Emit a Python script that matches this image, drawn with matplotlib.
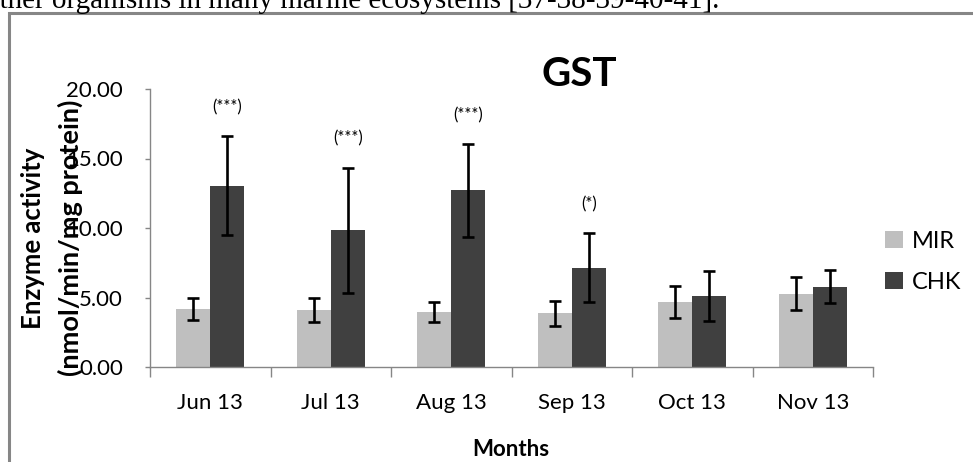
import matplotlib
matplotlib.use("Agg")
import matplotlib.pyplot as plt
import numpy as np
from matplotlib.patches import Patch, Rectangle

plt.rcParams['font.family'] = ['Lato', 'DejaVu Sans']

months = ["Jun 13", "Jul 13", "Aug 13", "Sep 13", "Oct 13", "Nov 13"]
mir_mean = [4.20, 4.10, 3.95, 3.85, 4.68, 5.27]
mir_err = [0.80, 0.84, 0.70, 0.87, 1.15, 1.17]
chk_mean = [13.05, 9.85, 12.70, 7.15, 5.13, 5.77]
chk_err = [3.55, 4.50, 3.33, 2.48, 1.80, 1.18]
signif = ["(***)", "(***)", "(***)", "(*)", "", ""]
series_names = ["MIR", "CHK"]
y_ticks = [0, 5, 10, 15, 20]

W, H = 973, 462
fig = plt.figure(figsize=(W / 100, H / 100), dpi=100)

# page text running above the chart box
fig.text(-15 / W, 1 - 8 / H,
         "other organisms in many marine ecosystems [37-38-39-40-41].",
         family="Liberation Serif", fontsize=21, ha="left", va="baseline")

# chart box border
fig.patches.append(Rectangle((9 / W, -0.2), 1.2, 1 - 13 / H + 0.2,
                             transform=fig.transFigure, fill=False,
                             edgecolor="#868686", linewidth=2.2))

ax = fig.add_axes([150 / W, (H - 367) / H, 723 / W, (367 - 89) / H])

x = np.arange(len(months))
bw = 0.282
err_kw = dict(ecolor="black", elinewidth=1.9, capsize=4.5, capthick=1.9)
ax.bar(x - bw / 2, mir_mean, bw, color="#BFBFBF", yerr=mir_err,
       error_kw=err_kw, label=series_names[0], zorder=2)
ax.bar(x + bw / 2, chk_mean, bw, color="#404040", yerr=chk_err,
       error_kw=err_kw, label=series_names[1], zorder=2)

for i, s in enumerate(signif):
    if s:
        ax.annotate(s, (x[i] + bw / 2, chk_mean[i] + chk_err[i]),
                    xytext=(0, 21), textcoords="offset points",
                    ha="center", va="center", fontsize=12)

ax.set_xlim(-0.5, len(months) - 0.5)
ax.set_ylim(0, 20)
ax.set_yticks(y_ticks)
ax.set_yticklabels([f"{v:.2f}" for v in y_ticks])
ax.tick_params(axis="y", direction="out", length=3.6, width=1,
               color="#868686", pad=16, labelsize=16)

ax.set_xticks(np.arange(-0.5, len(months)), labels=[])
ax.set_xticks(x, labels=months, minor=True)
ax.tick_params(axis="x", which="major", direction="out", length=7,
               width=1, color="#868686")
ax.tick_params(axis="x", which="minor", length=0, pad=19, labelsize=16)

for side in ("top", "right"):
    ax.spines[side].set_visible(False)
for side in ("left", "bottom"):
    ax.spines[side].set_color("#868686")
    ax.spines[side].set_linewidth(1)

fig.text(511 / W, 1 - 449 / H, "Months", ha="center", va="center",
         fontsize=16, fontweight="bold")
fig.text(33 / W, 1 - 238 / H, "Enzyme activity", rotation=90,
         ha="center", va="center", fontsize=18.5, fontweight="bold")
fig.text(70 / W, 1 - 238 / H, "(nmol/min/mg protein)", rotation=90,
         ha="center", va="center", fontsize=19.5, fontweight="bold")

fig.text(579 / W, 1 - 75 / H, "GST", ha="center", va="center",
         fontsize=29, fontweight="bold")

handles = [Patch(facecolor="#BFBFBF", edgecolor="none"),
           Patch(facecolor="#404040", edgecolor="none")]
fig.legend(handles, series_names, loc="center left",
           bbox_to_anchor=(885 / W, 1 - 262 / H), frameon=False,
           fontsize=17, handlelength=0.75, handleheight=0.75,
           handletextpad=0.4, labelspacing=0.85, borderpad=0,
           borderaxespad=0)

fig.savefig("out.png", dpi=100)
